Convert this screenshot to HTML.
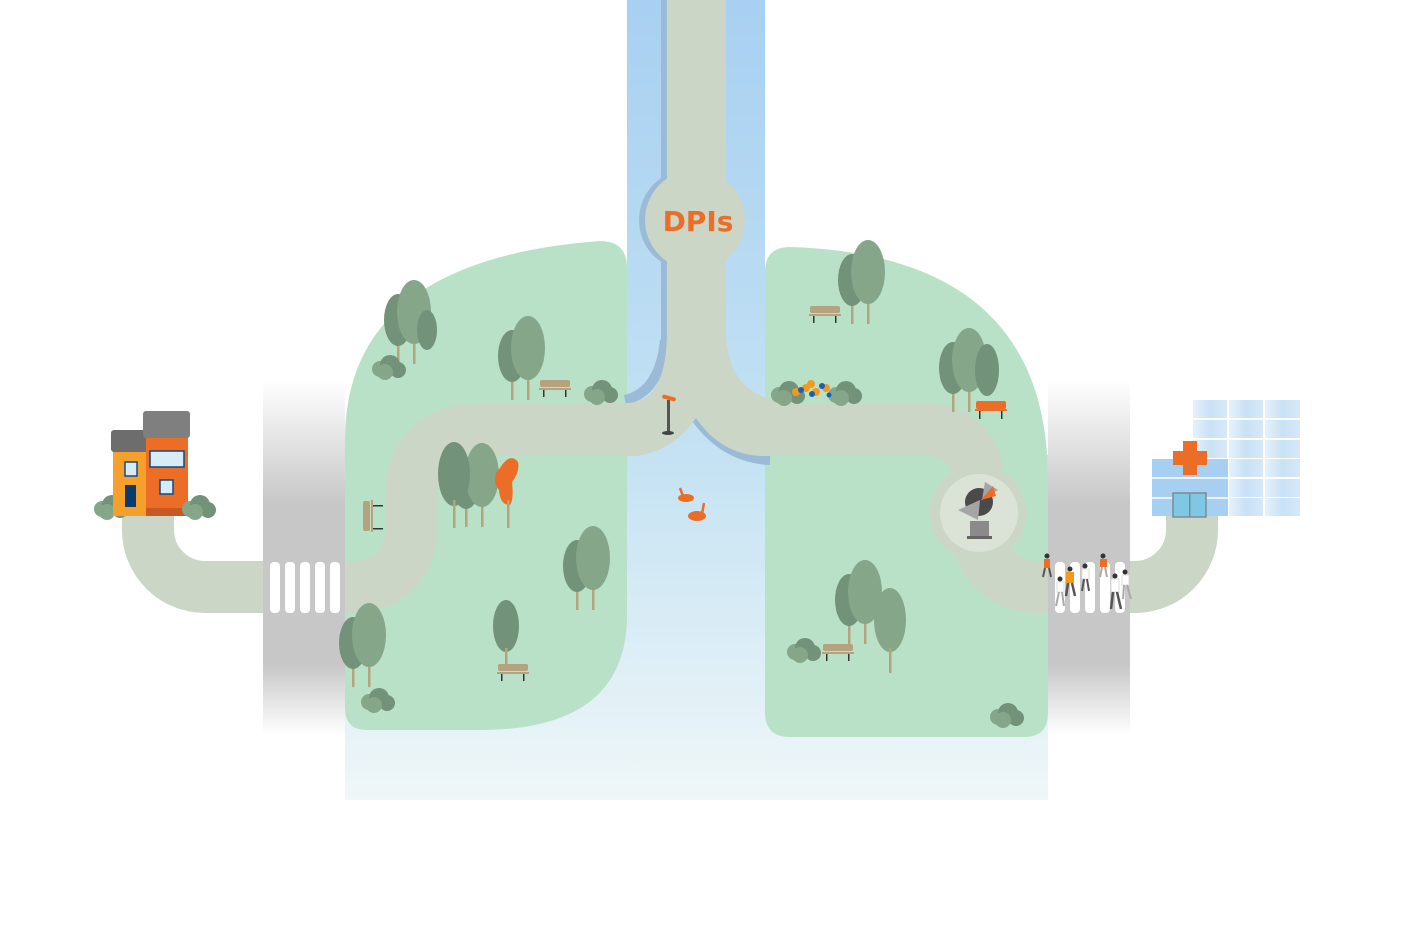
<!DOCTYPE html>
<html><head><meta charset="utf-8"><style>
html,body{margin:0;padding:0;background:#fff;width:1401px;height:929px;overflow:hidden}
svg{display:block}
</style></head><body>
<svg width="1401" height="929" viewBox="0 0 1401 929" xmlns="http://www.w3.org/2000/svg">
<defs>
<linearGradient id="canal" x1="0" y1="0" x2="0" y2="1"><stop offset="0" stop-color="#a8d0f2"/><stop offset="1" stop-color="#c4e2f3"/></linearGradient>
<linearGradient id="low" x1="0" y1="0" x2="0" y2="1"><stop offset="0" stop-color="#c4e2f3"/><stop offset="1" stop-color="#eff7f8"/></linearGradient>
<linearGradient id="road" x1="0" y1="0" x2="0" y2="1"><stop offset="0" stop-color="#fff"/><stop offset="0.35" stop-color="#c7c7c7"/><stop offset="0.8" stop-color="#c7c7c7"/><stop offset="1" stop-color="#fff"/></linearGradient>
<linearGradient id="win" x1="0" y1="0" x2="1" y2="0"><stop offset="0" stop-color="#e6f1fb"/><stop offset="0.5" stop-color="#c9e1f6"/><stop offset="1" stop-color="#d6e8f8"/></linearGradient>
<g id="tree2"><rect x="-1" y="0" width="2.5" height="42" fill="#b5a27e"/><rect x="-17" y="10" width="2.5" height="32" fill="#b5a27e"/><ellipse cx="-16" cy="-2" rx="14" ry="26" fill="#729279"/><ellipse cx="0" cy="-10" rx="17" ry="32" fill="#86a68a"/></g>
<g id="bush"><circle cx="-8" cy="2" r="8" fill="#86a68a"/><circle cx="2" cy="-2" r="10" fill="#729279"/><circle cx="10" cy="3" r="8" fill="#729279"/><circle cx="-3" cy="5" r="8" fill="#86a68a"/></g>
<g id="bench"><rect x="-15" y="-6" width="30" height="7" rx="2" fill="#b5a27e"/><rect x="-16" y="2" width="32" height="2" fill="#b5a27e"/><rect x="-12" y="4" width="1.5" height="7" fill="#333"/><rect x="10" y="4" width="1.5" height="7" fill="#333"/></g>
</defs>

<rect x="263" y="380" width="82" height="355" fill="url(#road)"/>
<rect x="1048" y="380" width="82" height="355" fill="url(#road)"/>

<rect x="627" y="0" width="138" height="460" fill="url(#canal)"/>
<rect x="345" y="455" width="703" height="345" fill="url(#low)"/>

<path d="M600 241 Q627 241 627 268 L627 615 Q627 730 480 730 L367 730 Q345 730 345 708 L345 440 Q345 260 600 241 Z" fill="#b9e1c8"/>
<path d="M790 247 Q765 247 765 272 L765 712 Q765 737 790 737 L1024 737 Q1048 737 1048 713 L1048 480 Q1048 255 790 247 Z" fill="#b9e1c8"/>

<rect x="661" y="0" width="10" height="340" fill="#9bbad6"/>
<circle cx="690" cy="220" r="51" fill="#9bbad6"/>
<path d="M665 340 Q660 392 625 400" stroke="#9bbad6" stroke-width="10" fill="none"/>
<path d="M696 418 Q725 458 770 460" stroke="#9bbad6" stroke-width="10" fill="none"/>
<path d="M667 0 L726 0 L726 330 Q726 403 800 403 L800 456 L765 456 Q722 456 696 418 Q670 456 627 456 L600 456 L600 403 L627 403 Q667 403 667 330 Z" fill="#cbd6c6"/>
<circle cx="695" cy="220" r="50" fill="#cbd6c6"/>
<text x="698" y="231" text-anchor="middle" font-family="DejaVu Sans, Liberation Sans, sans-serif" font-weight="bold" font-size="28" fill="#ec6d25">DPIs</text>

<g fill="none" stroke="#cbd6c6" stroke-width="52">
<path d="M640 430 L470 430 A58 58 0 0 0 412 488 L412 530 A57 57 0 0 1 355 587 L205 587 A57 57 0 0 1 148 530 L148 512"/>
<path d="M760 430 L930 430 A48 48 0 0 1 978 478 L978 530 A57 57 0 0 0 1035 587 L1135 587 A57 57 0 0 0 1192 530 L1192 515"/>
</g>
<rect x="263" y="561" width="82" height="52" fill="#c7c7c7"/>
<rect x="1048" y="561" width="82" height="52" fill="#c7c7c7"/>
<g fill="#fff">
<rect x="270" y="562" width="10" height="51" rx="4"/><rect x="285" y="562" width="10" height="51" rx="4"/><rect x="300" y="562" width="10" height="51" rx="4"/><rect x="315" y="562" width="10" height="51" rx="4"/><rect x="330" y="562" width="10" height="51" rx="4"/>
<rect x="1055" y="562" width="10" height="51" rx="4"/><rect x="1070" y="562" width="10" height="51" rx="4"/><rect x="1085" y="562" width="10" height="51" rx="4"/><rect x="1100" y="562" width="10" height="51" rx="4"/><rect x="1115" y="562" width="10" height="51" rx="4"/>
</g>

<circle cx="978" cy="513" r="48" fill="#cbd6c6"/>
<circle cx="979" cy="513" r="39" fill="#dbe2d6"/>
<circle cx="979" cy="502" r="14" fill="#4a4a4a"/>
<path d="M958 510 L980 500 L978 520 Z" fill="#a5a5a5"/>
<path d="M985 482 L998 490 L982 500 Z" fill="#a5a5a5"/>
<path d="M981 500 L993 486 L996 496 Z" fill="#ec6d25"/>
<rect x="970" y="521" width="19" height="16" fill="#8a8a8a"/><rect x="967" y="536" width="25" height="3" fill="#666"/>

<use href="#tree2" x="414" y="322"/>
<use href="#bush" x="388" y="367"/>
<ellipse cx="427" cy="330" rx="10" ry="20" fill="#729279"/>
<use href="#tree2" x="528" y="358"/>
<use href="#bench" x="555" y="386"/>
<use href="#bush" x="600" y="392"/>
<use href="#tree2" x="482" y="485"/>
<ellipse cx="454" cy="474" rx="16" ry="32" fill="#729279"/><rect x="453" y="500" width="2.5" height="28" fill="#b5a27e"/>
<path d="M500 468 Q510 452 518 462 Q520 472 512 482 Q514 500 510 505 Q500 505 499 490 Q490 478 500 468 Z" fill="#ec6d25"/><rect x="507" y="500" width="2.5" height="28" fill="#b5a27e"/>
<use href="#tree2" x="593" y="568"/>
<ellipse cx="506" cy="626" rx="13" ry="26" fill="#729279"/><rect x="505" y="648" width="2.5" height="20" fill="#b5a27e"/>
<use href="#bench" x="513" y="670"/>
<use href="#tree2" x="369" y="645"/>
<use href="#bush" x="377" y="700"/>
<rect x="363" y="501" width="7" height="30" rx="2" fill="#b5a27e"/><rect x="371" y="500" width="2" height="32" fill="#b5a27e"/><rect x="373" y="505" width="10" height="1.5" fill="#333"/><rect x="373" y="528" width="10" height="1.5" fill="#333"/>

<use href="#tree2" x="868" y="282"/>
<use href="#bench" x="825" y="312"/>
<use href="#tree2" x="969" y="370"/>
<ellipse cx="987" cy="370" rx="12" ry="26" fill="#729279"/>
<g><rect x="976" y="401" width="30" height="8" rx="2" fill="#ec6d25"/><rect x="975" y="409" width="32" height="2" fill="#ec6d25"/><rect x="979" y="411" width="1.5" height="8" fill="#333"/><rect x="1001" y="411" width="1.5" height="8" fill="#333"/></g>
<use href="#bush" x="787" y="393"/><use href="#bush" x="844" y="393"/>
<g fill="#f39a1e"><circle cx="796" cy="392" r="4"/><circle cx="806" cy="388" r="4"/><circle cx="816" cy="392" r="4"/><circle cx="826" cy="388" r="4"/><circle cx="811" cy="384" r="4"/></g>
<g fill="#1a5fb4"><circle cx="801" cy="390" r="3"/><circle cx="812" cy="394" r="3"/><circle cx="822" cy="386" r="3"/><circle cx="829" cy="395" r="2.5"/></g>
<use href="#tree2" x="865" y="602"/>
<ellipse cx="890" cy="620" rx="16" ry="32" fill="#86a68a"/><rect x="889" y="648" width="2.5" height="25" fill="#b5a27e"/>
<use href="#bench" x="838" y="650"/>
<use href="#bush" x="803" y="650"/>
<use href="#bush" x="1006" y="715"/>

<rect x="667" y="400" width="3" height="32" fill="#555"/><ellipse cx="668" cy="433" rx="6" ry="2" fill="#444"/>
<rect x="662" y="396" width="14" height="4" rx="2" fill="#ec6d25" transform="rotate(15 669 398)"/>
<ellipse cx="686" cy="498" rx="8" ry="4" fill="#ec6d25"/><path d="M683 496 L680 488" stroke="#ec6d25" stroke-width="2.5"/>
<ellipse cx="697" cy="516" rx="9" ry="5" fill="#ec6d25"/><path d="M702 514 L704 503" stroke="#ec6d25" stroke-width="2.5"/>

<use href="#bush" x="110" y="507"/>
<rect x="113" y="440" width="34" height="76" fill="#f5a02a"/>
<rect x="111" y="430" width="38" height="22" rx="3" fill="#6d6d6d"/>
<rect x="146" y="430" width="42" height="86" fill="#ec6d25"/>
<rect x="143" y="411" width="47" height="27" rx="3" fill="#7f7f7f"/>
<rect x="125" y="462" width="12" height="14" fill="#d8ecf8" stroke="#0f4a8a" stroke-width="1.5"/>
<rect x="125" y="485" width="11" height="22" fill="#0b3a6e"/>
<rect x="150" y="451" width="34" height="16" fill="#d8ecf8" stroke="#0f4a8a" stroke-width="1.5"/>
<rect x="160" y="480" width="13" height="14" fill="#d8ecf8" stroke="#0f4a8a" stroke-width="1.5"/>
<rect x="146" y="508" width="42" height="8" fill="#c75a22"/>
<use href="#bush" x="198" y="507"/>

<g fill="url(#win)">
<rect x="1193" y="400" width="34" height="18"/><rect x="1229" y="400" width="34" height="18"/><rect x="1265" y="400" width="35" height="18"/>
<rect x="1193" y="420" width="34" height="18"/><rect x="1229" y="420" width="34" height="18"/><rect x="1265" y="420" width="35" height="18"/>
<rect x="1193" y="440" width="34" height="18"/><rect x="1229" y="440" width="34" height="18"/><rect x="1265" y="440" width="35" height="18"/>
<rect x="1229" y="459" width="34" height="18"/><rect x="1265" y="459" width="35" height="18"/>
<rect x="1229" y="479" width="34" height="18"/><rect x="1265" y="479" width="35" height="18"/>
<rect x="1229" y="498" width="34" height="18"/><rect x="1265" y="498" width="35" height="18"/>
</g>
<rect x="1152" y="459" width="76" height="57" fill="#a6cff2"/>
<rect x="1152" y="477" width="76" height="2" fill="#eaf3fb"/><rect x="1152" y="497" width="76" height="2" fill="#eaf3fb"/>
<path d="M1183 441 h14 v10 h10 v14 h-10 v10 h-14 v-10 h-10 v-14 h10 Z" fill="#ec6d25"/>
<rect x="1173" y="493" width="33" height="24" fill="#7ec8e6" stroke="#7f8a90" stroke-width="1.5"/><rect x="1189" y="493" width="1.5" height="24" fill="#7f8a90"/>

<g>
<circle cx="1047" cy="556" r="2.5" fill="#333"/><rect x="1044" y="559" width="6" height="9" fill="#ec6d25"/><path d="M1045 568 l-2 9 M1049 568 l2 9" stroke="#555" stroke-width="2"/>
<circle cx="1070" cy="569" r="2.5" fill="#333"/><rect x="1066" y="572" width="8" height="11" fill="#f39a1e"/><path d="M1068 583 l-2 13 M1072 583 l3 13" stroke="#555" stroke-width="2.5"/>
<circle cx="1060" cy="579" r="2.5" fill="#333"/><rect x="1057" y="582" width="7" height="10" fill="#fff" stroke="#ddd"/><path d="M1059 592 l-3 14 M1062 592 l2 14" stroke="#aaa" stroke-width="2"/>
<circle cx="1085" cy="566" r="2.5" fill="#333"/><rect x="1082" y="569" width="7" height="10" fill="#fff" stroke="#ddd"/><path d="M1084 579 l-2 12 M1087 579 l2 12" stroke="#555" stroke-width="2"/>
<circle cx="1103" cy="556" r="2.5" fill="#333"/><rect x="1100" y="559" width="7" height="8" fill="#ec6d25"/><path d="M1102 567 l-2 10 M1105 567 l2 10" stroke="#aaa" stroke-width="2"/>
<circle cx="1115" cy="576" r="2.5" fill="#333"/><rect x="1111" y="579" width="8" height="13" fill="#fff" stroke="#ddd"/><path d="M1113 592 l-2 17 M1117 592 l4 17" stroke="#555" stroke-width="2.5"/>
<circle cx="1125" cy="572" r="2.5" fill="#333"/><rect x="1122" y="575" width="7" height="10" fill="#fff" stroke="#ddd"/><path d="M1124 585 l-1 14 M1127 585 l4 14" stroke="#aaa" stroke-width="2"/>
</g>
</svg>
</body></html>
